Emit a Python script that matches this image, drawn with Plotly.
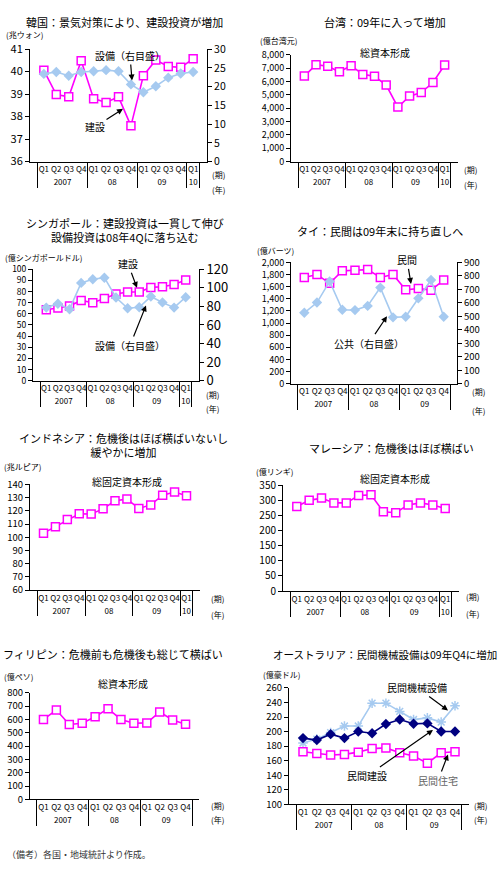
import plotly.graph_objects as go

W, H = 497, 872
FONT = "Noto Sans CJK JP"
MAG = "#FF00FF"
LB = "#A6CAF0"
NAVY = "#000080"

# ---------------- data ----------------
QUARTERS13 = ["Q1", "Q2", "Q3", "Q4"] * 3 + ["Q1"]
YEARS13 = ["2007"] * 4 + ["08"] * 4 + ["09"] * 4 + ["10"]
QUARTERS12 = ["Q1", "Q2", "Q3", "Q4"] * 3
YEARS12 = ["2007"] * 4 + ["08"] * 4 + ["09"] * 4

korea_construction = [40.06, 38.98, 38.88, 40.48, 38.80, 38.63, 38.88, 37.59, 39.82, 40.52, 40.23, 40.19, 40.57]
korea_equipment = [23.4, 23.9, 22.9, 23.9, 24.1, 24.4, 24.1, 20.6, 18.5, 20.1, 22.4, 23.5, 23.9]

taiwan_gcf = [6420, 7275, 7150, 6740, 7200, 6545, 6400, 5740, 4090, 4915, 5180, 5935, 7250]

singapore_construction = [63.6, 65.3, 67.1, 72.0, 70.0, 73.8, 77.8, 79.6, 79.6, 83.7, 84.3, 86.3, 90.4]
singapore_equipment = [78.7, 82.9, 77.0, 105.3, 109.2, 110.9, 89.6, 78.0, 79.1, 90.6, 84.3, 78.7, 89.9]

thailand_private = [1752, 1800, 1655, 1860, 1870, 1881, 1752, 1800, 1547, 1569, 1542, 1709]
thailand_public = [526, 602, 759, 548, 546, 577, 713, 492, 497, 633, 769, 497]

indonesia_gfcf = [103.1, 108.0, 113.4, 117.8, 117.6, 121.5, 127.6, 128.9, 121.8, 124.5, 131.9, 134.3, 131.4]

malaysia_gfcf = [280, 300.5, 308, 292, 292, 316.6, 318.8, 262.8, 259.5, 285.4, 292, 285.4, 273.5]

philippines_gcf = [600, 671, 562, 571, 620, 681, 600, 571, 574, 656, 596, 564]

australia_machinery = [184.3, 189.6, 198.6, 207.6, 207.6, 239.0, 239.0, 227.7, 216.5, 218.8, 213.0, 235.4]
australia_construction = [191.0, 188.3, 196.4, 191.0, 200.0, 197.7, 210.3, 216.5, 210.8, 211.2, 200.0, 200.0]
australia_housing = [172.2, 169.9, 167.7, 168.6, 171.7, 176.6, 177.5, 170.8, 166.3, 156.5, 170.8, 172.2]

# ---------------- helpers ----------------
def X(px):
    return px / W

def Y(py):
    return 1 - py / H

# plot areas in pixels: left, right, top, bottom
boxes = {
    1: (30, 207, 40, 155),
    2: (291, 458, 46, 155),
    3: (33, 199, 265, 379),
    4: (291, 457, 258, 382),
    5: (30, 200, 485, 593),
    6: (283, 459, 486, 594),
    7: (30, 199, 698, 807),
    8: (289, 469, 693, 812),
}

def xn(i):
    return "x" if i == 1 else f"x{i}"

def yn(i):
    return "y" if i == 1 else f"y{i}"

def xk(i):
    return "xaxis" if i == 1 else f"xaxis{i}"

def yk(i):
    return "yaxis" if i == 1 else f"yaxis{i}"

layout = {}
fig = go.Figure()

# range, dtick, format, tick font size
yranges = {
    1: ([36, 41], 1, "", 11),
    2: ([0, 8000], 1000, ",", 9),
    3: ([0, 100], 10, "", 8.5),
    4: ([0, 2000], 200, ",", 9),
    5: ([60, 140], 10, "", 9.5),
    6: ([0, 350], 50, "", 10),
    7: ([0, 800], 100, "", 9.5),
    8: ([100, 260], 20, "", 9.5),
}

for i, (l, r, t, b) in boxes.items():
    layout[xk(i)] = dict(
        domain=[X(l), X(r)], anchor=yn(i), type="multicategory",
        showline=True, linecolor="black", linewidth=1, ticks="", tickangle=0,
        showdividers=True, dividercolor="black", dividerwidth=1,
        tickfont=dict(size=8, color="black", family=FONT),
        showgrid=False, zeroline=False, fixedrange=True,
    )
    rng, dt, fmt, fs = yranges[i]
    layout[yk(i)] = dict(
        domain=[Y(b), Y(t)], anchor=xn(i), range=rng, dtick=dt, tick0=rng[0],
        tickformat=fmt, showline=True, linecolor="black", linewidth=1,
        ticks="outside", ticklen=4, tickcolor="black",
        tickfont=dict(size=fs, color="black", family=FONT),
        showgrid=False, zeroline=False, fixedrange=True,
    )

# secondary axes
sec = {9: (1, [0, 30], 5, 10.5), 10: (3, [0, 120], 20, 13), 11: (4, [0, 900], 100, 9.5)}
for k, (base, rng, dt, fs) in sec.items():
    layout[f"yaxis{k}"] = dict(
        overlaying=yn(base), anchor=xn(base), side="right", range=rng, dtick=dt, tick0=0,
        showline=True, linecolor="black", linewidth=1,
        ticks="outside", ticklen=4, tickcolor="black",
        tickfont=dict(size=fs, color="black", family=FONT),
        showgrid=False, zeroline=False, fixedrange=True,
    )

def sq(i, yvals, x, yaxis=None):
    fig.add_trace(go.Scatter(
        x=x, y=yvals, xaxis=xn(i), yaxis=yaxis or yn(i), mode="lines+markers",
        line=dict(color=MAG, width=1.6),
        marker=dict(symbol="square", size=8, color="white", line=dict(color=MAG, width=1.5)),
        showlegend=False, hoverinfo="skip"))

def dia(i, yvals, x, yaxis, color=LB):
    fig.add_trace(go.Scatter(
        x=x, y=yvals, xaxis=xn(i), yaxis=yaxis, mode="lines+markers",
        line=dict(color=color, width=1.6),
        marker=dict(symbol="diamond", size=8, color=color),
        showlegend=False, hoverinfo="skip"))

X13 = [YEARS13, QUARTERS13]
X12 = [YEARS12, QUARTERS12]

# Korea
dia(1, korea_equipment, X13, "y9")
sq(1, korea_construction, X13)
# Taiwan
sq(2, taiwan_gcf, X13)
# Singapore
dia(3, singapore_equipment, X13, "y10")
sq(3, singapore_construction, X13)
# Thailand
dia(4, thailand_public, X12, "y11")
sq(4, thailand_private, X12)
# Indonesia
sq(5, indonesia_gfcf, X13)
# Malaysia
sq(6, malaysia_gfcf, X13)
# Philippines
sq(7, philippines_gcf, X12)
# Australia
fig.add_trace(go.Scatter(
    x=X12, y=australia_machinery, xaxis="x8", yaxis="y8", mode="lines+markers",
    line=dict(color=LB, width=1.6),
    marker=dict(symbol="asterisk-open", size=8, line=dict(color=LB, width=1.5)),
    showlegend=False, hoverinfo="skip"))
dia(8, australia_construction, X12, "y8", color=NAVY)
sq(8, australia_housing, X12)

ann = []

def txt(x, y, s, size=10, color="black", xanchor="center"):
    ann.append(dict(x=X(x), y=Y(y), xref="paper", yref="paper", text=s, showarrow=False,
                    xanchor=xanchor, yanchor="middle",
                    font=dict(size=size, color=color, family=FONT)))

def arrow(hx, hy, tx, ty, s, size=10, color="black"):
    ann.append(dict(x=X(hx), y=Y(hy), xref="paper", yref="paper", text=s, showarrow=True,
                    ax=tx - hx, ay=ty - hy, arrowhead=2, arrowsize=1, arrowwidth=1.2,
                    arrowcolor="black", standoff=0,
                    font=dict(size=size, color=color, family=FONT)))

# titles
txt(125, 12, "韓国：景気対策により、建設投資が増加", 11)
txt(385, 12, "台湾：09年に入って増加", 11)
txt(125, 225, "シンガポール：建設投資は一貫して伸び<br>設備投資は08年4Qに落ち込む", 11)
txt(380, 226, "タイ：民間は09年末に持ち直しへ", 11)
txt(123, 445, "インドネシア：危機後はほぼ横ばいないし<br>緩やかに増加", 11)
txt(391, 448, "マレーシア：危機後はほぼ横ばい", 11)
txt(113, 658, "フィリピン：危機前も危機後も総じて横ばい", 11)
txt(385, 659, "オーストラリア：民間機械設備は09年Q4に増加", 10.5)

# unit labels
txt(24, 25, "(兆ウォン)", 8)
txt(278, 31, "(億台湾元)", 8)
txt(43, 253, "(億シンガポールドル)", 8)
txt(275, 246, "(億バーツ)", 8)
txt(22, 467, "(兆ルピア)", 8)
txt(274, 472, "(億リンギ)", 8)
txt(18, 681, "(億ペソ)", 8)
txt(281, 679, "(億豪ドル)", 8)

# series labels
txt(385, 43, "総資本形成", 10)
txt(127, 482, "総固定資本形成", 10)
txt(395, 479, "総固定資本形成", 10)
txt(123, 688, "総資本形成", 10)

arrow(132, 72, 130, 47, "設備（右目盛）", 10)
arrow(123, 101, 95, 119, "建設", 10)
arrow(137, 284, 128, 260, "建設", 10)
arrow(146, 302, 130, 342, "設備（右目盛）", 10)
arrow(411, 280, 407, 256, "民間", 10)
arrow(387, 313, 369, 340, "公共（右目盛）", 10)
arrow(448, 716, 417, 693, "民間機械設備", 10)
arrow(433, 736, 367, 782, "民間建設", 10)
arrow(448, 761, 438, 787, "民間住宅", 10, color="#666666")

# (期) / (年)
for (x, y1, y2) in [(218, 168, 183), (470, 163, 178), (212, 393, 407), (478, 390, 409),
                    (217, 602, 618), (472, 600, 617), (217, 813, 828), (480, 813, 828)]:
    txt(x, y1, "(期)", 8)
    txt(x, y2, "(年)", 8)

txt(5, 863, "（備考）各国・地域統計より作成。", 9, color="#333333", xanchor="left")

fig.update_layout(**layout)
fig.update_layout(
    width=W, height=H, margin=dict(l=0, r=0, t=0, b=0),
    paper_bgcolor="white", plot_bgcolor="white",
    font=dict(family=FONT, color="black"),
    annotations=ann, showlegend=False,
)

fig.write_html("out.html")
